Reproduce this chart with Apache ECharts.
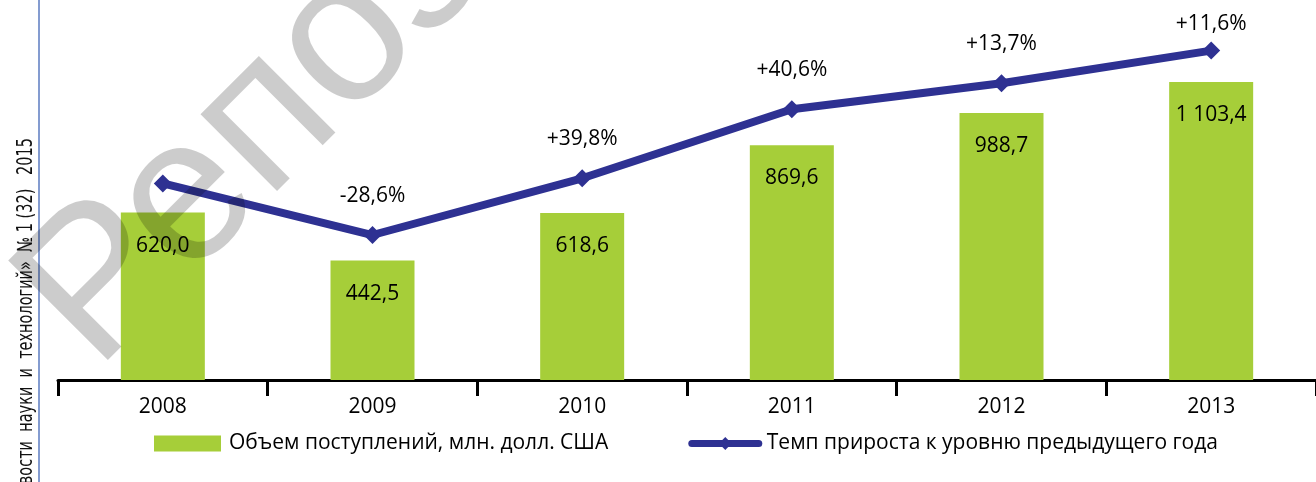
<!DOCTYPE html>
<html>
<head>
<meta charset="utf-8">
<script src="https://cdn.jsdelivr.net/npm/echarts@6/dist/echarts.min.js"></script>
<style>
  html, body { margin: 0; padding: 0; background: #fff; }
  #main { width: 1316px; height: 482px; }
</style>
</head>
<body>
<div id="main"></div>
<script>
// годы
var years = ['2008', '2009', '2010', '2011', '2012', '2013'];
// объем поступлений, млн. долл. США
var volume = [620.0, 442.5, 618.6, 869.6, 988.7, 1103.4];
// уровень точек линии (в единицах оси)
var growthLevel = [728, 537, 747, 1003, 1099, 1220];
// подписи темпа прироста
var growthLabels = ['', '-28,6%', '+39,8%', '+40,6%', '+13,7%', '+11,6%'];

var seriesNames = ['Объем поступлений, млн. долл. США', 'Темп прироста к уровню предыдущего года'];

var FONT = '"Open Sans", "Noto Sans", sans-serif';

function fmtNum(v) {
  var s = v.toFixed(1).replace('.', ',');
  var parts = s.split(',');
  parts[0] = parts[0].replace(/\B(?=(\d{3})+(?!\d))/g, ' ');
  return parts.join(',');
}

// последняя подпись у края — ближе к точке
var lineData = growthLevel.map(function (v, i) {
  if (i === growthLevel.length - 1) {
    return { value: v, label: { distance: 6 } };
  }
  return v;
});

var myChart = echarts.init(document.getElementById('main'));
var option = {
  animation: false,
  backgroundColor: '#fff',
  grid: { left: 58, width: 1260, top: 2, bottom: 102 },
  legend: {
    left: 149,
    top: 428,
    itemWidth: 67,
    itemHeight: 16,
    itemGap: 80,
    textStyle: { color: '#000', fontSize: 21, fontFamily: FONT, padding: [0, 0, 0, 3] },
    data: [
      { name: seriesNames[0], icon: 'rect' },
      { name: seriesNames[1], lineStyle: { width: 7, cap: 'round' } }
    ]
  },
  xAxis: {
    type: 'category',
    data: years,
    axisLine: { lineStyle: { color: '#000', width: 3 } },
    axisTick: { show: true, length: 16, lineStyle: { color: '#000', width: 3 } },
    axisLabel: { color: '#000', fontSize: 21, fontFamily: FONT, margin: 17 }
  },
  yAxis: [
    { type: 'value', min: 0, max: 1400, show: false },
    { type: 'value', min: 0, max: 1400, show: false }
  ],
  series: [
    {
      name: seriesNames[0],
      type: 'bar',
      data: volume,
      barWidth: 84,
      itemStyle: { color: '#A6CE39' },
      label: {
        show: true,
        position: 'insideTop',
        distance: 21,
        color: '#000',
        fontSize: 21,
        lineHeight: 24,
        fontFamily: FONT,
        formatter: function (p) { return fmtNum(p.value); }
      }
    },
    {
      name: seriesNames[1],
      type: 'line',
      yAxisIndex: 1,
      data: lineData,
      symbol: 'diamond',
      symbolSize: 18,
      lineStyle: { color: '#2E3192', width: 8 },
      itemStyle: { color: '#2E3192' },
      z: 5,
      label: {
        show: true,
        position: 'top',
        distance: 18,
        color: '#000',
        fontSize: 21,
        lineHeight: 24,
        fontFamily: FONT,
        formatter: function (p) { return growthLabels[p.dataIndex]; }
      }
    }
  ],
  graphic: [
    {
      type: 'line',
      shape: { x1: 39, y1: 0, x2: 39, y2: 482 },
      style: { stroke: '#5B7BC0', lineWidth: 1.5 },
      z: 1
    },
    {
      type: 'text',
      x: 37,
      y: 138,
      rotation: Math.PI / 2,
      scaleX: 0.69,
      style: {
        text: '«Новости  науки  и  технологий»  № 1 (32)   2015',
        font: '21px "DejaVu Sans", sans-serif',
        fill: '#111',
        textAlign: 'right',
        textVerticalAlign: 'bottom'
      },
      z: 1
    },
    {
      // водяной знак
      type: 'text',
      x: 56,
      y: 332,
      rotation: Math.PI / 4,
      style: {
        text: 'Репозиторий',
        font: '205px "Liberation Sans", Arial, sans-serif',
        fill: 'rgba(0,0,0,0.2)',
        textAlign: 'left',
        textVerticalAlign: 'middle'
      },
      z: 100
    }
  ]
};
myChart.setOption(option);
</script>
</body>
</html>
